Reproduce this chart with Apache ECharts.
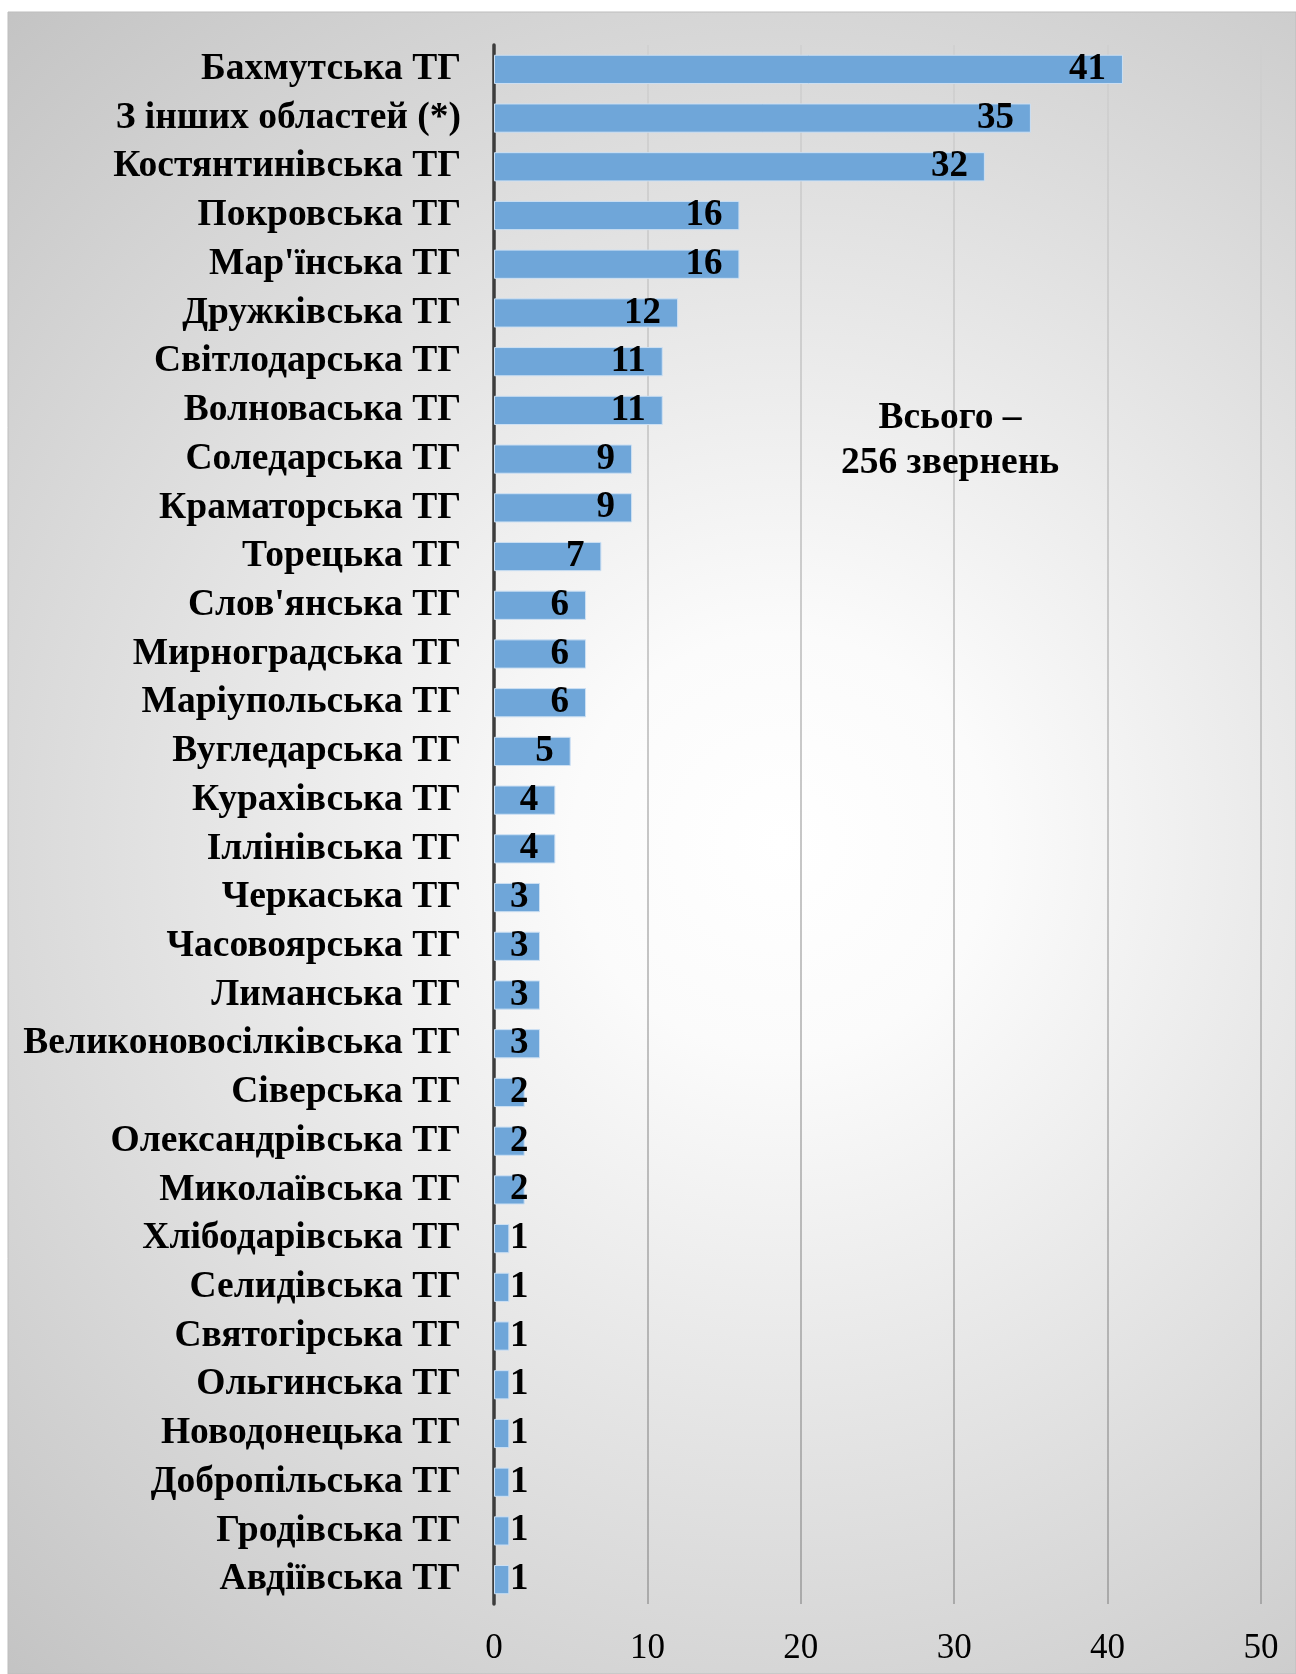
<!DOCTYPE html>
<html>
<head>
<meta charset="utf-8">
<script src="https://cdn.jsdelivr.net/npm/echarts@6/dist/echarts.min.js"></script>
<style>
  html, body { margin: 0; padding: 0; background: #fff; }
  #chart { width: 1296px; height: 1674px; }
</style>
</head>
<body>
<div id="chart"></div>
<script>
// categories top to bottom
const categories = [
  "Бахмутська ТГ", "З інших областей (*)", "Костянтинівська ТГ", "Покровська ТГ",
  "Мар'їнська ТГ", "Дружківська ТГ", "Світлодарська ТГ", "Волноваська ТГ",
  "Соледарська ТГ", "Краматорська ТГ", "Торецька ТГ", "Слов'янська ТГ",
  "Мирноградська ТГ", "Маріупольська ТГ", "Вугледарська ТГ", "Курахівська ТГ",
  "Іллінівська ТГ", "Черкаська ТГ", "Часовоярська ТГ", "Лиманська ТГ",
  "Великоновосілківська ТГ", "Сіверська ТГ", "Олександрівська ТГ", "Миколаївська ТГ",
  "Хлібодарівська ТГ", "Селидівська ТГ", "Святогірська ТГ", "Ольгинська ТГ",
  "Новодонецька ТГ", "Добропільська ТГ", "Гродівська ТГ", "Авдіївська ТГ"
];
const values = [
  41, 35, 32, 16, 16, 12, 11, 11, 9, 9, 7, 6, 6, 6, 5, 4,
  4, 3, 3, 3, 3, 2, 2, 2, 1, 1, 1, 1, 1, 1, 1, 1
];
const axisMin = 0;
const axisMax = 50;
const axisStep = 10;
const noteLines = ["Всього –", "256 звернень"];

const serif = "'Liberation Serif', 'Times New Roman', serif";

const chart = echarts.init(document.getElementById("chart"));

// short bars: label starts from the axis side instead of the bar end
const barData = values.map((v) => {
  return {
    value: v,
    label: v <= 3
      ? { position: "insideLeft", distance: 16 }
      : { position: "insideRight", distance: 17 },
  };
});

const option = {
  backgroundColor: "#ffffff",
  animation: false,
  graphic: [
    {
      type: "rect",
      z: -10,
      shape: { x: 8, y: 12, width: 1288, height: 1662 },
      style: {
        fill: new echarts.graphic.RadialGradient(0.6, 0.5, 0.9, [
          { offset: 0, color: "#ffffff" },
          { offset: 0.18, color: "#fbfbfb" },
          { offset: 1, color: "#c2c2c2" },
        ]),
        stroke: "#bdbdbd",
        lineWidth: 1,
      },
    },
    {
      type: "text",
      z: 100,
      x: 950,
      y: 441,
      style: {
        text: noteLines.join("\n"),
        font: "bold 37.5px " + serif,
        fill: "#000",
        align: "center",
        verticalAlign: "middle",
        lineHeight: 45,
      },
    },
  ],
  grid: {
    left: 494,
    right: 35,
    top: 45,
    bottom: 70,
    containLabel: false,
  },
  xAxis: {
    type: "value",
    min: axisMin,
    max: axisMax,
    interval: axisStep,
    axisLine: { show: false },
    axisTick: { show: false },
    axisLabel: {
      margin: 27,
      color: "#000",
      fontFamily: serif,
      fontSize: 35,
    },
    splitLine: {
      show: true,
      lineStyle: {
        width: 1.5,
        color: new echarts.graphic.LinearGradient(0, 45, 0, 1604, [
          { offset: 0, color: "#cfcfcf" },
          { offset: 1, color: "#9a9a9a" },
        ], true),
      },
    },
  },
  yAxis: {
    type: "category",
    data: categories,
    inverse: true,
    axisLine: { show: true, lineStyle: { color: "#3c3c3c", width: 3.5 } },
    axisTick: { show: false },
    axisLabel: {
      interval: 0,
      hideOverlap: false,
      margin: 33,
      color: "#000",
      fontFamily: serif,
      fontWeight: "bold",
      fontSize: 37.5,
    },
    splitLine: { show: false },
  },
  series: [
    {
      type: "bar",
      data: barData,
      barCategoryGap: "40%",
      itemStyle: {
        color: "#6fa6d9",
        borderColor: "#cde0f3",
        borderWidth: 1,
      },
      label: {
        show: true,
        color: "#000",
        fontFamily: serif,
        fontWeight: "bold",
        fontSize: 37,
      },
    },
  ],
};

chart.setOption(option);
</script>
</body>
</html>
